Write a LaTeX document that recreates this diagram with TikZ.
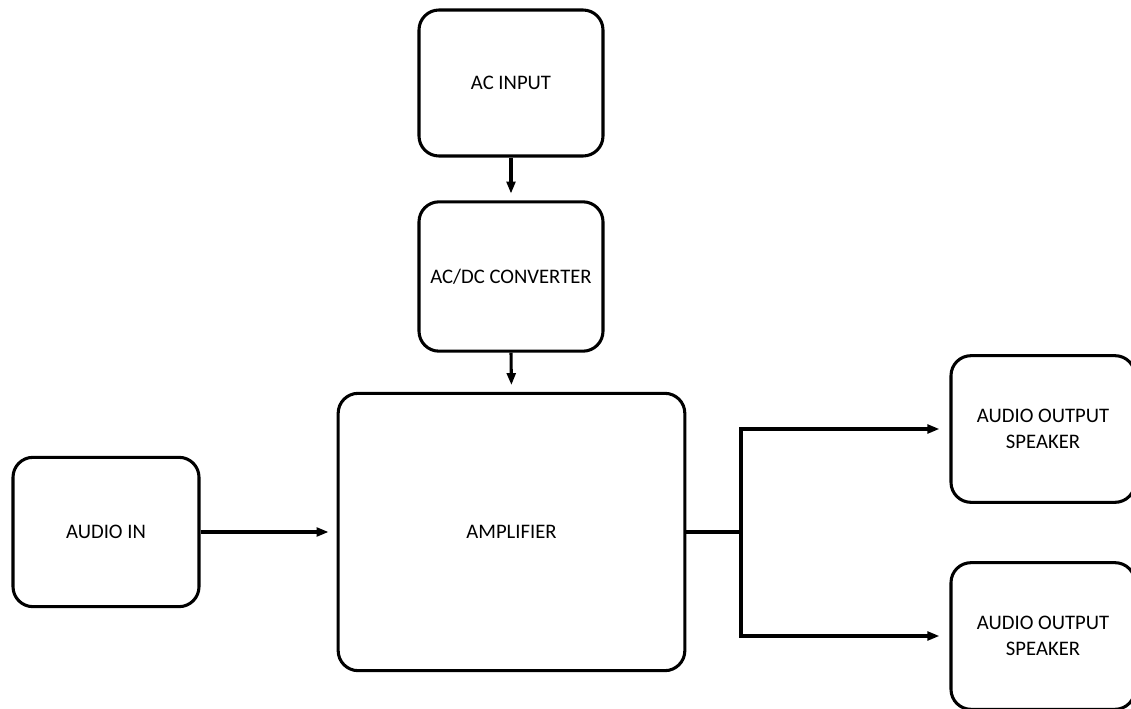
\documentclass[tikz,border=0pt]{standalone}
\usepackage{fontspec}
\setmainfont{Carlito}
\usetikzlibrary{arrows.meta}
\begin{document}
\begin{tikzpicture}[x=0.75pt,y=-0.75pt,
  blk/.style={draw=black,line width=2.3pt,rounded corners=15pt,align=center,
    font=\fontsize{15.5}{19.5}\selectfont,inner sep=0pt},
  conn/.style={line width=2.3pt,draw=black},
  arr/.style={conn,-{Triangle[length=9pt,width=6.5pt]},shorten >=5pt}]
\useasboundingbox (0,0) rectangle (1131,709);
\node[blk,minimum width=138pt,minimum height=109.5pt] (acin) at (511,83) {AC INPUT};
\node[blk,minimum width=138pt,minimum height=112pt] (acdc) at (511,276.5) {AC/DC CONVERTER};
\node[blk,minimum width=260pt,minimum height=208pt] (amp) at (511.5,532) {AMPLIFIER};
\node[blk,minimum width=139.5pt,minimum height=112pt] (ain) at (106,532) {AUDIO IN};
\node[blk,minimum width=138pt,minimum height=110pt] (sp1) at (1043,429) {AUDIO OUTPUT\\SPEAKER};
\node[blk,minimum width=138pt,minimum height=110pt] (sp2) at (1043,636) {AUDIO OUTPUT\\SPEAKER};
\coordinate (j) at (741,532);
\draw[arr] (acin.south) -- (acdc.north);
\draw[arr] (acdc.south) -- (amp.north);
\draw[arr,shorten >=6pt] (ain.east) -- (amp.west);
\draw[conn] (amp.east) -- (j);
\draw[arr,shorten >=7.5pt] (j) |- (sp1.west);
\draw[arr,shorten >=7.5pt] (j) |- (sp2.west);
\end{tikzpicture}
\end{document}
